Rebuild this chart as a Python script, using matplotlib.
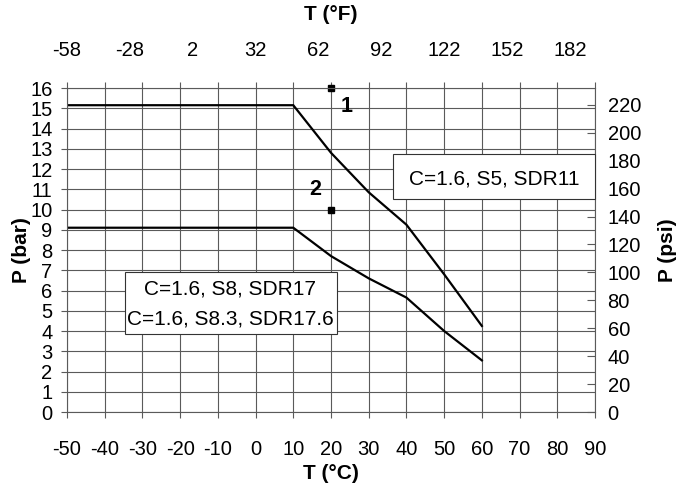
import numpy as np
import matplotlib
matplotlib.use("Agg")
import matplotlib.pyplot as plt
from matplotlib.patches import Rectangle

plt.rcParams["font.family"] = ["Liberation Sans", "DejaVu Sans"]
plt.rcParams["font.size"] = 14.5
plt.rcParams["axes.unicode_minus"] = False

# curve data (T in °C, P in bar)
temp = [-50, 10, 20, 30, 40, 50, 60]
p_s5 = [15.15, 15.15, 12.8, 10.85, 9.25, 6.8, 4.25]
p_s8 = [9.1, 9.1, 7.7, 6.6, 5.65, 4.0, 2.55]

mark_t = [20, 20]
mark_p = [16, 10]
mark_labels = ["1", "2"]
label_t = [24.1, 15.7]
label_p = [15.11, 10.99]

c_ticks = np.arange(-50, 91, 10)
f_ticks = np.arange(-58, 183, 30)
bar_ticks = np.arange(0, 17, 1)
psi_ticks = np.arange(0, 221, 20)

grid_c = "#5a5a5a"

fig = plt.figure(figsize=(6.86, 4.86), dpi=100)
ax = fig.add_axes([67/686, 1-412/486, (595-67)/686, (412-88)/486])

ax.set_xlim(-50, 90)
ax.set_ylim(0, 16)
ax.set_xticks(c_ticks)
ax.set_yticks(bar_ticks)
ax.grid(True, color=grid_c, lw=0.8)
ax.set_axisbelow(True)
for s in ax.spines.values():
    s.set_color(grid_c)
    s.set_linewidth(0.8)
ax.tick_params(axis="both", color=grid_c, length=4.5, width=0.8)
ax.tick_params(axis="x", top=True, labeltop=False, pad=15.5)
ax.tick_params(axis="y", pad=6)

ax.plot(temp, p_s5, color="black", lw=1.6, solid_joinstyle="miter")
ax.plot(temp, p_s8, color="black", lw=1.6, solid_joinstyle="miter")
ax.plot(mark_t, mark_p, "s", color="black", ms=4.5, ls="none", clip_on=False)
for t, p, s in zip(label_t, label_p, mark_labels):
    ax.text(t, p, s, ha="center", va="center", fontsize=15.5, fontweight="bold")

# legend boxes
ax.add_patch(Rectangle((36.4, 10.5), 53.6, 2.22, facecolor="white",
                       edgecolor="#333333", lw=0.8, zorder=3, clip_on=False))
ax.text(63.4, 11.53, "C=1.6, S5, SDR11", ha="center", va="center",
        fontsize=15, zorder=4)
ax.add_patch(Rectangle((-34.6, 3.86), 56.2, 3.04, facecolor="white",
                       edgecolor="#333333", lw=0.8, zorder=3))
ax.text(-6.7, 6.07, "C=1.6, S8, SDR17", ha="center", va="center",
        fontsize=15, zorder=4)
ax.text(-6.7, 4.59, "C=1.6, S8.3, SDR17.6", ha="center", va="center",
        fontsize=15, zorder=4)

ax.set_xlabel("T (°C)", fontweight="bold", fontsize=15, labelpad=4)
ax.set_ylabel("P (bar)", fontweight="bold", fontsize=15, labelpad=-1)

secx = ax.secondary_xaxis("top", functions=(lambda c: c * 9 / 5 + 32,
                                            lambda f: (f - 32) * 5 / 9))
secx.set_xticks(f_ticks)
secx.tick_params(length=0, pad=20)
secx.spines["top"].set_visible(False)
secx.set_xlabel("T (°F)", fontweight="bold", fontsize=15, labelpad=15)

secy = ax.secondary_yaxis("right", functions=(lambda b: b * 14.5038,
                                              lambda p: p / 14.5038))
secy.set_yticks(psi_ticks)
secy.tick_params(direction="in", length=6, color=grid_c, width=0.8, pad=9)
secy.spines["right"].set_visible(False)
secy.set_ylabel("P (psi)", fontweight="bold", fontsize=15, labelpad=12)

fig.savefig("out.png", dpi=100)
